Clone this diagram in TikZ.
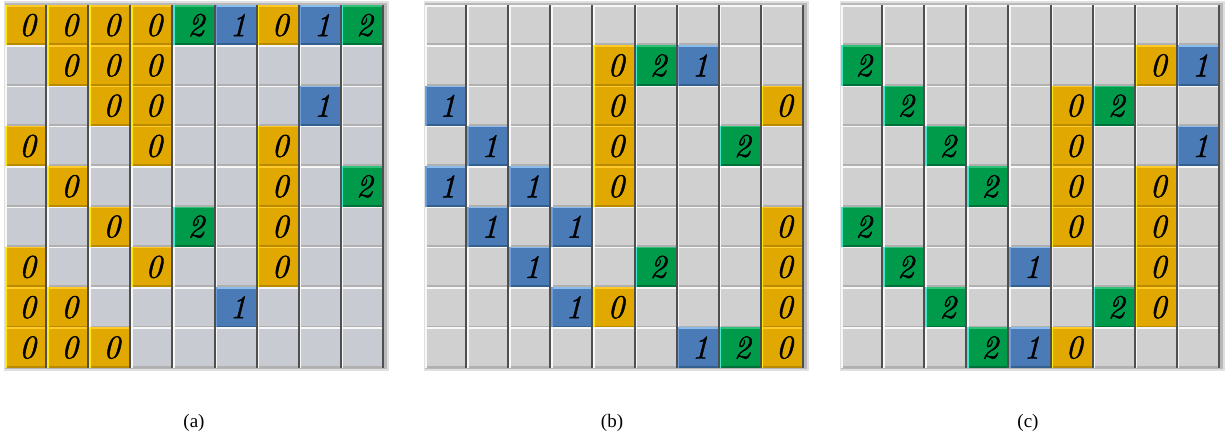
\documentclass[tikz,border=0pt]{standalone}
\usepackage{fontspec}
\newfontfamily\capfont{Liberation Serif}
\newfontfamily\digfam{Latin Modern Roman}[FakeBold=1.3]
\newcommand\digfont{\digfam\fontsize{33}{33}\selectfont\itshape}
\newcommand\cellval[1]{\if x#1\else\kern3pt\raisebox{-2pt}{#1}\fi}
\def\cw{42.1}
\def\ch{40.3}
\definecolor{F0}{HTML}{E0A800}
\definecolor{HL0}{HTML}{FFEA00}
\definecolor{HT0}{HTML}{FFC928}
\definecolor{S0}{HTML}{B98A00}
\definecolor{F1}{HTML}{4A7BB7}
\definecolor{HL1}{HTML}{6E9FD8}
\definecolor{HT1}{HTML}{8CBCEB}
\definecolor{S1}{HTML}{34608F}
\definecolor{F2}{HTML}{009A4B}
\definecolor{HL2}{HTML}{3CEBCB}
\definecolor{HT2}{HTML}{2FC07A}
\definecolor{S2}{HTML}{00703A}
\definecolor{gryA}{HTML}{C9CBD2}
\definecolor{gryB}{HTML}{D0D0D0}
\definecolor{HLx}{HTML}{F7F7F7}
\definecolor{HTx}{HTML}{F7F7F7}
\definecolor{Sx}{HTML}{B0B0B0}
\definecolor{edgeD}{HTML}{4F4F4F}
\tikzset{
  tile/.style={rectangle, anchor=north west, minimum width=\cw pt, minimum height=\ch pt,
    inner sep=0pt, outer sep=0pt, font=\digfont},
  caption/.style={font=\capfont\fontsize{19}{19}\selectfont},
}
\newcommand\drawgrid[3]{%
  \fill[black!12] ({#2-1},1) rectangle ({#2+9*\cw+5},{5+9*\ch+3});
  \fill[black!28] (#2,3) rectangle ({#2+9*\cw+3},{5+9*\ch+1.5});
  \foreach \rowdata [count=\rr] in {#3} {
    \foreach \v [count=\cc] in \rowdata {
      \node[tile, fill=F\v] (#1-\rr-\cc) at ({#2+(\cc-1)*\cw},{5+(\rr-1)*\ch}) {\cellval\v};
      \fill[HT\v] (#1-\rr-\cc.north west) rectangle ([yshift=-1.6pt]#1-\rr-\cc.north east);
      \fill[S\v] ([yshift=1.8pt]#1-\rr-\cc.south west) rectangle (#1-\rr-\cc.south east);
      \fill[edgeD] ([xshift=-2pt]#1-\rr-\cc.north east) rectangle (#1-\rr-\cc.south east);
      \fill[HL\v] (#1-\rr-\cc.north west) rectangle ([xshift=1.6pt]#1-\rr-\cc.south west);
    }
  }
}
\begin{document}
\begin{tikzpicture}[x=1pt,y=-1pt]
\useasboundingbox[fill=white] (0,0) rectangle (1228,441);
\colorlet{Fx}{gryA}
\drawgrid{a}{5}{%
{0,0,0,0,2,1,0,1,2},
{x,0,0,0,x,x,x,x,x},
{x,x,0,0,x,x,x,1,x},
{0,x,x,0,x,x,0,x,x},
{x,0,x,x,x,x,0,x,2},
{x,x,0,x,2,x,0,x,x},
{0,x,x,0,x,x,0,x,x},
{0,0,x,x,x,1,x,x,x},
{0,0,0,x,x,x,x,x,x}}
\colorlet{Fx}{gryB}
\drawgrid{b}{425}{%
{x,x,x,x,x,x,x,x,x},
{x,x,x,x,0,2,1,x,x},
{1,x,x,x,0,x,x,x,0},
{x,1,x,x,0,x,x,2,x},
{1,x,1,x,0,x,x,x,x},
{x,1,x,1,x,x,x,x,0},
{x,x,1,x,x,2,x,x,0},
{x,x,x,1,0,x,x,x,0},
{x,x,x,x,x,x,1,2,0}}
\drawgrid{c}{841}{%
{x,x,x,x,x,x,x,x,x},
{2,x,x,x,x,x,x,0,1},
{x,2,x,x,x,0,2,x,x},
{x,x,2,x,x,0,x,x,1},
{x,x,x,2,x,0,x,0,x},
{2,x,x,x,x,0,x,0,x},
{x,2,x,x,1,x,x,0,x},
{x,x,2,x,x,x,2,0,x},
{x,x,x,2,1,0,x,x,x}}
\node[caption] (capa) at (194,423) {(a)};
\node[caption] (capb) at (612,423) {(b)};
\node[caption] (capc) at (1028,423) {(c)};
\end{tikzpicture}
\end{document}
